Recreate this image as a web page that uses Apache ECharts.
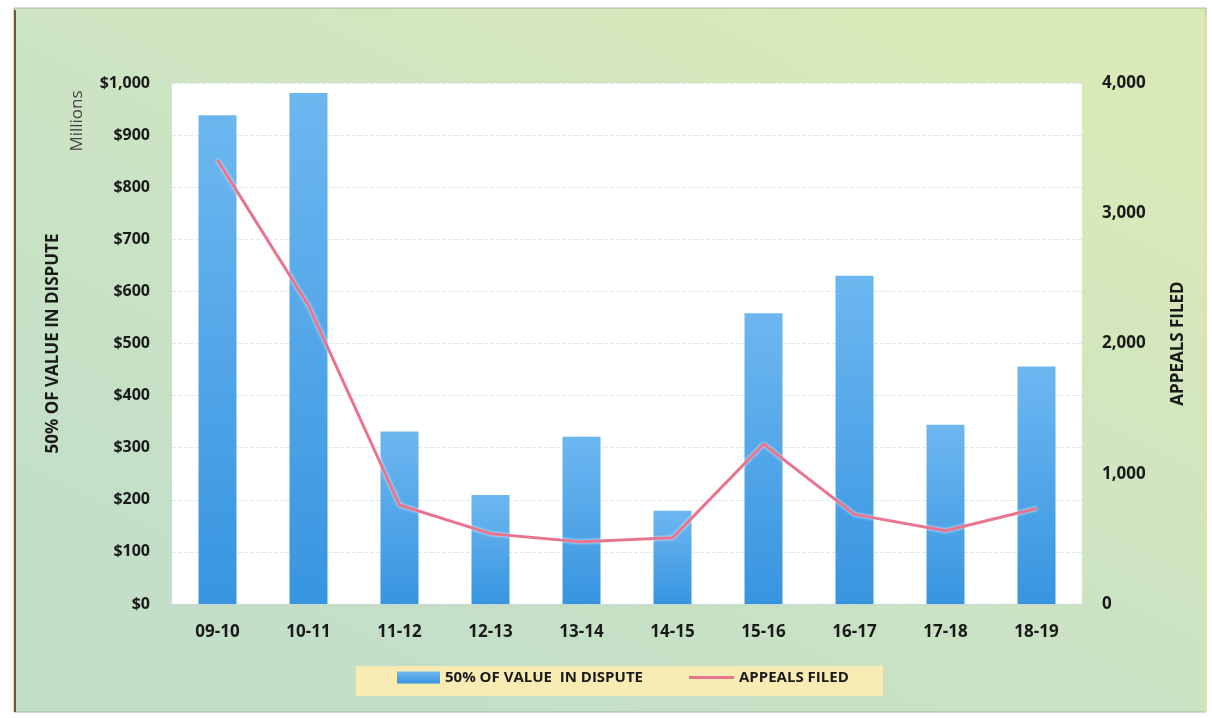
<!DOCTYPE html>
<html>
<head>
<meta charset="utf-8">
<script src="https://cdn.jsdelivr.net/npm/echarts@6/dist/echarts.min.js"></script>
<style>
  html, body { margin: 0; padding: 0; background: #ffffff; }
  #chart { width: 1212px; height: 718px; }
</style>
</head>
<body>
<div id="chart"></div>
<script>
// Fiscal years
const years = ['09-10', '10-11', '11-12', '12-13', '13-14', '14-15', '15-16', '16-17', '17-18', '18-19'];
// 50% of value in dispute, $ millions
const valueInDispute = [938, 981, 331, 209, 321, 179, 558, 630, 344, 456];
// Number of appeals filed
const appealsFiled = [3408, 2292, 760, 540, 477, 508, 1228, 688, 562, 733];
// Axis ranges
const leftAxisMax = 1000, leftAxisStep = 100;
const rightAxisMax = 4000, rightAxisStep = 1000;

const barName = '50% OF VALUE  IN DISPUTE';
const lineName = 'APPEALS FILED';
const fontFamily = '"Open Sans", "Liberation Sans", sans-serif';
const ink = '#1a1a1a';
const lineColor = '#e87590';

const chart = echarts.init(document.getElementById('chart'));

chart.setOption({
  animation: false,
  backgroundColor: '#ffffff',
  textStyle: { fontFamily: fontFamily },
  graphic: [
    {
      // panel behind the chart
      type: 'rect', z: -10, silent: true,
      shape: { x: 14, y: 8, width: 1192, height: 704 },
      style: {
        fill: new echarts.graphic.LinearGradient(0.7, 0, 0.4, 1, [
          { offset: 0, color: '#d9e9b8' },
          { offset: 0.5, color: '#cde4c3' },
          { offset: 1, color: '#c3dfc8' }
        ]),
        stroke: '#a9b89a', lineWidth: 1
      }
    },
    {
      type: 'line', z: -9, silent: true,
      shape: { x1: 15, y1: 10, x2: 15, y2: 712 },
      style: { stroke: '#6b5a32', lineWidth: 2 }
    },
    {
      type: 'line', z: -9, silent: true,
      shape: { x1: 1205, y1: 15, x2: 1205, y2: 712 },
      style: { stroke: '#e6e29a', lineWidth: 2 }
    },
    {
      // legend box
      type: 'rect', z: -5, silent: true,
      shape: { x: 356, y: 666, width: 527, height: 30 },
      style: { fill: '#f8ecb4' }
    },
    {
      type: 'text', silent: true,
      x: 77, y: 121, rotation: Math.PI / 2,
      style: {
        text: 'Millions', fill: '#444444',
        font: '17px ' + fontFamily,
        align: 'center', verticalAlign: 'middle'
      }
    }
  ],
  grid: {
    left: 172, right: 130, top: 83, bottom: 114,
    show: true, backgroundColor: '#ffffff', borderWidth: 0
  },
  legend: [
    {
      data: [barName],
      left: 397, top: 670, padding: 0,
      itemWidth: 43, itemHeight: 12,
      icon: 'rect',
      textStyle: { fontSize: 15, fontWeight: 'bold', color: ink, fontFamily: fontFamily }
    },
    {
      data: [{ name: lineName, icon: 'rect', itemStyle: { color: lineColor } }],
      left: 689, top: 670, padding: 0,
      itemWidth: 45, itemHeight: 3,
      textStyle: { fontSize: 15, fontWeight: 'bold', color: ink, fontFamily: fontFamily }
    }
  ],
  xAxis: {
    type: 'category',
    data: years,
    axisLine: { show: true, lineStyle: { color: '#c6d3dc', type: 'dashed', width: 1 } },
    axisTick: { show: false },
    axisLabel: { margin: 20, fontSize: 17, fontWeight: 'bold', color: ink }
  },
  yAxis: [
    {
      type: 'value', min: 0, max: leftAxisMax, interval: leftAxisStep,
      name: '50% OF VALUE IN DISPUTE',
      nameLocation: 'middle', nameRotate: 90, nameGap: 110,
      nameTextStyle: { fontSize: 17, fontWeight: 'bold', color: ink },
      axisLine: { show: false },
      axisTick: { show: false },
      axisLabel: {
        margin: 22, fontSize: 16, fontWeight: 'bold', color: ink,
        formatter: v => '$' + v.toLocaleString('en-US')
      },
      splitLine: { show: true, lineStyle: { color: '#dbe9f2', type: 'dashed', width: 1 } }
    },
    {
      type: 'value', min: 0, max: rightAxisMax, interval: rightAxisStep,
      name: 'APPEALS FILED',
      nameLocation: 'middle', nameRotate: 90, nameGap: 88,
      nameTextStyle: { fontSize: 17, fontWeight: 'bold', color: ink },
      axisLine: { show: false },
      axisTick: { show: false },
      axisLabel: {
        margin: 20, fontSize: 17, fontWeight: 'bold', color: ink, align: 'left',
        formatter: v => v.toLocaleString('en-US')
      },
      splitLine: { show: false }
    }
  ],
  series: [
    {
      name: barName,
      type: 'bar',
      yAxisIndex: 0,
      data: valueInDispute,
      barWidth: 38,
      itemStyle: {
        color: new echarts.graphic.LinearGradient(0, 0, 0, 1, [
          { offset: 0, color: '#6db7f0' },
          { offset: 1, color: '#3795e0' }
        ])
      }
    },
    {
      name: lineName,
      type: 'line',
      yAxisIndex: 1,
      data: appealsFiled,
      symbol: 'none',
      lineStyle: {
        color: lineColor, width: 3,
        shadowColor: 'rgba(255,255,255,0.9)', shadowBlur: 3
      },
      itemStyle: { color: lineColor },
      z: 3
    }
  ]
});
</script>
</body>
</html>
